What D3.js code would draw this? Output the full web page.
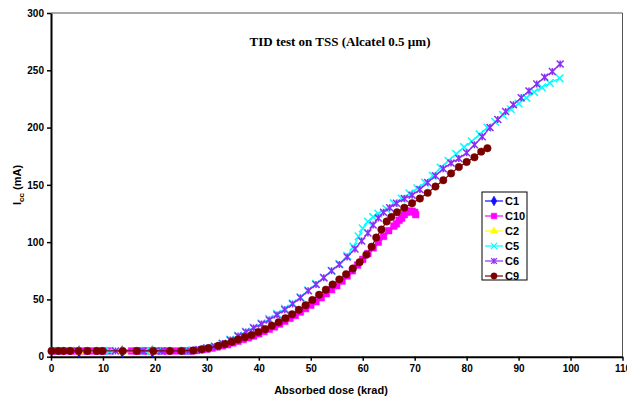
<!DOCTYPE html>
<html>
<head>
<meta charset="utf-8">
<script src="https://cdn.jsdelivr.net/npm/d3@7"></script>
<style>
  body { margin: 0; background: #fff; }
  svg { display: block; }
  .tick text { font-family: "Liberation Sans", Arial, sans-serif; font-weight: bold; font-size: 10px; fill: #000; }
</style>
</head>
<body>
<svg id="chart" width="627" height="399"></svg>
<script>
// Constants
const WIDTH = 627;
const HEIGHT = 399;
const MARGIN = { top: 13, right: 4, bottom: 42, left: 51 };

// Data (dose in krad, current in mA)
const seriesNames = ['C1', 'C10', 'C2', 'C5', 'C6', 'C9'];

const c1Dose = [5.4, 13.7, 19.5];
const c1Icc = [4.5, 4.5, 4.5];

const c10Dose = [0.3, 1, 2, 3, 4, 5, 6, 7, 8, 9, 10, 11, 15.5, 16.5, 17.5, 18.5, 19.5, 20.5, 21.5, 22.5, 24, 25.5, 26.5,
  27, 28, 29, 30, 31, 32, 33, 34, 35, 36, 37, 38, 39, 40, 41, 42, 43, 44, 45, 46, 47, 48, 49, 50,
  51, 52, 53, 54, 55, 56, 57, 58, 59, 60, 61, 62, 63, 64, 65, 66, 66.5, 67, 67.5, 68, 68.5, 69, 69.5, 70, 70.2];
const c10Icc = [5, 5, 5, 5, 5, 5, 5, 5, 5, 5, 5, 5, 5, 5, 5, 5, 5, 5, 5, 5, 5, 5, 5,
  5, 5.5, 6, 6.5, 7.5, 8.5, 9.5, 10.5, 12, 13.5, 15, 16.5, 18, 20, 22, 24, 26, 28.5, 31, 33.5, 36, 39, 42, 45,
  48, 51.5, 55, 58.5, 62, 66, 70.5, 75, 80, 85, 90, 95, 100, 105, 110, 114, 116, 119, 121, 124, 126, 127, 127, 126, 124];

const c2Dose = [5.4, 13.7, 19.5];
const c2Icc = [4.5, 4.5, 4.5];

const c5Dose = [0.5, 11.3, 18.2, 20.6, 25.6, 27.2, 28.5, 30, 31.5, 33, 34.5, 36, 37.5, 39, 40.5, 42, 43.5, 45, 46.5,
  48, 49.5, 51, 52.5, 54, 55.5, 57, 58.2, 59.2, 60, 61, 62, 63, 64.5, 66, 67.5, 69, 70.5, 72, 73.5, 75, 76.5,
  78, 79.5, 81, 82.5, 84, 85.5, 87, 88.5, 90, 91.5, 93, 94.5, 96, 97.9];
const c5Icc = [5, 5, 5, 5, 5, 5.5, 6, 7.5, 9, 11.5, 15, 18.5, 22, 25.5, 29, 33, 37.5, 42, 46.5,
  52, 58, 63.5, 69, 75, 81, 88, 96, 105, 112, 118, 122, 125, 129, 134, 138, 142.5, 147, 152, 158, 165, 171,
  177, 183, 188, 194, 200, 205, 211, 216, 221, 226, 231, 235, 239, 243];

const c6Dose = [12.4, 17.7, 21.3, 26.3, 27.5, 28.5, 30, 31.5, 33, 34.5, 36, 37.5, 39, 40.5, 42, 43.5, 45, 46.5,
  48, 49.5, 51, 52.5, 54, 55.5, 57, 58.5, 59.8, 61, 62, 63, 64, 65.2, 66.5, 68, 69.5, 71, 72.5, 74, 75.5,
  77, 78.5, 80, 81.5, 83, 84.5, 86, 87.5, 89, 90.5, 92, 93.5, 95, 96.5, 98];
const c6Icc = [5, 5, 5, 5, 5.5, 6, 7.5, 9, 11.5, 14.5, 18, 21.5, 25, 28.5, 32, 36.5, 41, 46,
  51.5, 57.5, 63, 69, 75, 80.5, 87, 94, 101, 108, 115, 121, 126, 130, 134, 138, 141, 146, 152, 158, 164,
  169, 173, 178, 185, 192, 200, 207, 214, 220, 226, 232, 238, 244, 249, 255.5];

const c9Dose = [0.1, 1.4, 2.4, 3.7, 5.3, 7, 8.8, 9.9, 13.8, 16.5, 19.7, 22.9, 25.1, 27.4, 29, 30.3, 32.2, 33.5,
  34.8, 36, 37.3, 38.6, 39.9, 41.2, 42.5, 43.8, 45.1, 46.4, 47.7, 49, 50.3, 51.6, 52.9, 54.2, 55.5, 56.8,
  58.1, 59.4, 60.7, 61.7, 62.6, 63.6, 64.6, 65.5, 66.6, 68, 69.5, 71, 72.5, 74, 75.5, 77, 78.5, 80, 81.5, 82.8, 84];
const c9Icc = [5, 5, 5, 5, 5, 5, 5, 5, 5, 5, 5, 5, 5, 5.5, 6.5, 7.5, 9.5, 11,
  13, 15, 17, 19, 21.5, 24, 27, 30, 33.5, 37, 41, 45, 49.5, 54, 58.5, 63, 67.5, 72,
  77, 82.5, 89, 96, 104, 111, 118, 122, 126, 130, 134, 138, 143, 148.5, 154, 160, 165.5, 170, 174, 179, 182];

const xTicks = [0, 10, 20, 30, 40, 50, 60, 70, 80, 90, 100, 110];
const yTicks = [0, 50, 100, 150, 200, 250, 300];

// Custom star marker: X plus vertical bar (Excel style)
const symbolStar = {
  draw(context, size) {
    const r = Math.sqrt(size) * 0.55;
    context.moveTo(-r, -r); context.lineTo(r, r);
    context.moveTo(-r, r); context.lineTo(r, -r);
    context.moveTo(0, -r); context.lineTo(0, r);
  },
};

const series = [
  { name: 'C1', dose: c1Dose, icc: c1Icc, color: '#1010ff', symbol: d3.symbolDiamond, size: 40, filled: true },
  { name: 'C10', dose: c10Dose, icc: c10Icc, color: '#ff00ff', symbol: d3.symbolSquare, size: 44, filled: true },
  { name: 'C2', dose: c2Dose, icc: c2Icc, color: '#ffff00', symbol: d3.symbolTriangle, size: 34, filled: true },
  { name: 'C5', dose: c5Dose, icc: c5Icc, color: '#00ffff', symbol: d3.symbolTimes, size: 40, filled: false },
  { name: 'C6', dose: c6Dose, icc: c6Icc, color: '#8c2cf5', symbol: symbolStar, size: 40, filled: false },
  { name: 'C9', dose: c9Dose, icc: c9Icc, color: '#7a0000', symbol: d3.symbolCircle, size: 44, filled: true },
];

const svg = d3.select('#chart');

// Scales
const xScale = d3.scaleLinear([0, 110], [MARGIN.left, MARGIN.left + 571.5]);
const yScale = d3.scaleLinear([0, 300], [356.7, MARGIN.top]);

// Frame (top and right)
svg.append('path')
  .attr('d', `M${xScale(0)},${yScale(300)}H${xScale(110)}V${yScale(0)}`)
  .attr('fill', 'none')
  .attr('stroke', '#555')
  .attr('stroke-width', 1);

// Axes
const xAxis = d3.axisBottom(xScale).tickValues(xTicks).tickSize(4).tickSizeOuter(0).tickPadding(4);
const yAxis = d3.axisLeft(yScale).tickValues(yTicks).tickSize(4).tickSizeOuter(0).tickPadding(3);

const gx = svg.append('g')
  .attr('transform', `translate(0, ${yScale(0)})`)
  .call(xAxis);
const gy = svg.append('g')
  .attr('transform', `translate(${xScale(0)}, 0)`)
  .call(yAxis);
[gx, gy].forEach((g) => {
  g.select('.domain').attr('stroke', '#000').attr('stroke-width', 2);
  g.selectAll('.tick line').attr('stroke', '#000').attr('stroke-width', 1.5);
});

// Series lines + markers
const line = d3.line().x((d) => xScale(d[0])).y((d) => yScale(d[1]));

series.forEach((s) => {
  const pts = s.dose.map((d, i) => [d, s.icc[i]]);
  const g = svg.append('g');
  g.append('path')
    .datum(pts)
    .attr('d', line)
    .attr('fill', 'none')
    .attr('stroke', s.color)
    .attr('stroke-width', s.name === 'C10' ? 3 : 1.2);
  g.selectAll('path.m')
    .data(pts)
    .enter()
    .append('path')
    .attr('class', 'm')
    .attr('d', d3.symbol().type(s.symbol).size(s.size))
    .attr('transform', (d) => `translate(${xScale(d[0])}, ${yScale(d[1])})`)
    .attr('fill', s.filled ? s.color : 'none')
    .attr('stroke', s.color)
    .attr('stroke-width', s.filled ? 0.5 : 1.5);
});

// Title
svg.append('text')
  .attr('x', 340)
  .attr('y', 46)
  .attr('text-anchor', 'middle')
  .attr('font-family', '"Liberation Serif", "Times New Roman", serif')
  .attr('font-weight', 'bold')
  .attr('font-size', 13)
  .text('TID test on TSS (Alcatel 0.5 \u00b5m)');

// Axis titles
svg.append('text')
  .attr('x', 331)
  .attr('y', 394)
  .attr('text-anchor', 'middle')
  .attr('font-family', '"Liberation Sans", Arial, sans-serif')
  .attr('font-weight', 'bold')
  .attr('font-size', 11)
  .text('Absorbed dose (krad)');

const yt = svg.append('text')
  .attr('transform', 'translate(21, 185) rotate(-90)')
  .attr('text-anchor', 'middle')
  .attr('font-family', '"Liberation Sans", Arial, sans-serif')
  .attr('font-weight', 'bold')
  .attr('font-size', 11);
yt.append('tspan').text('I');
yt.append('tspan').attr('font-size', 8).attr('dy', 3).text('cc');
yt.append('tspan').attr('dy', -3).text(' (mA)');

// Legend
const legend = svg.append('g').attr('transform', 'translate(482, 192)');
legend.append('rect')
  .attr('width', 45)
  .attr('height', 88)
  .attr('fill', '#fff')
  .attr('stroke', '#000')
  .attr('stroke-width', 1);
series.forEach((s, i) => {
  const y = 9 + i * 15;
  legend.append('line')
    .attr('x1', 3).attr('x2', 21)
    .attr('y1', y).attr('y2', y)
    .attr('stroke', s.color)
    .attr('stroke-width', 1.2);
  legend.append('path')
    .attr('d', d3.symbol().type(s.symbol).size(s.size * 0.7))
    .attr('transform', `translate(12, ${y})`)
    .attr('fill', s.filled ? s.color : 'none')
    .attr('stroke', s.color)
    .attr('stroke-width', s.filled ? 0.5 : 1.2);
  legend.append('text')
    .attr('x', 23)
    .attr('y', y + 4)
    .attr('font-family', '"Liberation Sans", Arial, sans-serif')
    .attr('font-weight', 'bold')
    .attr('font-size', 11)
    .text(s.name);
});
</script>
</body>
</html>
